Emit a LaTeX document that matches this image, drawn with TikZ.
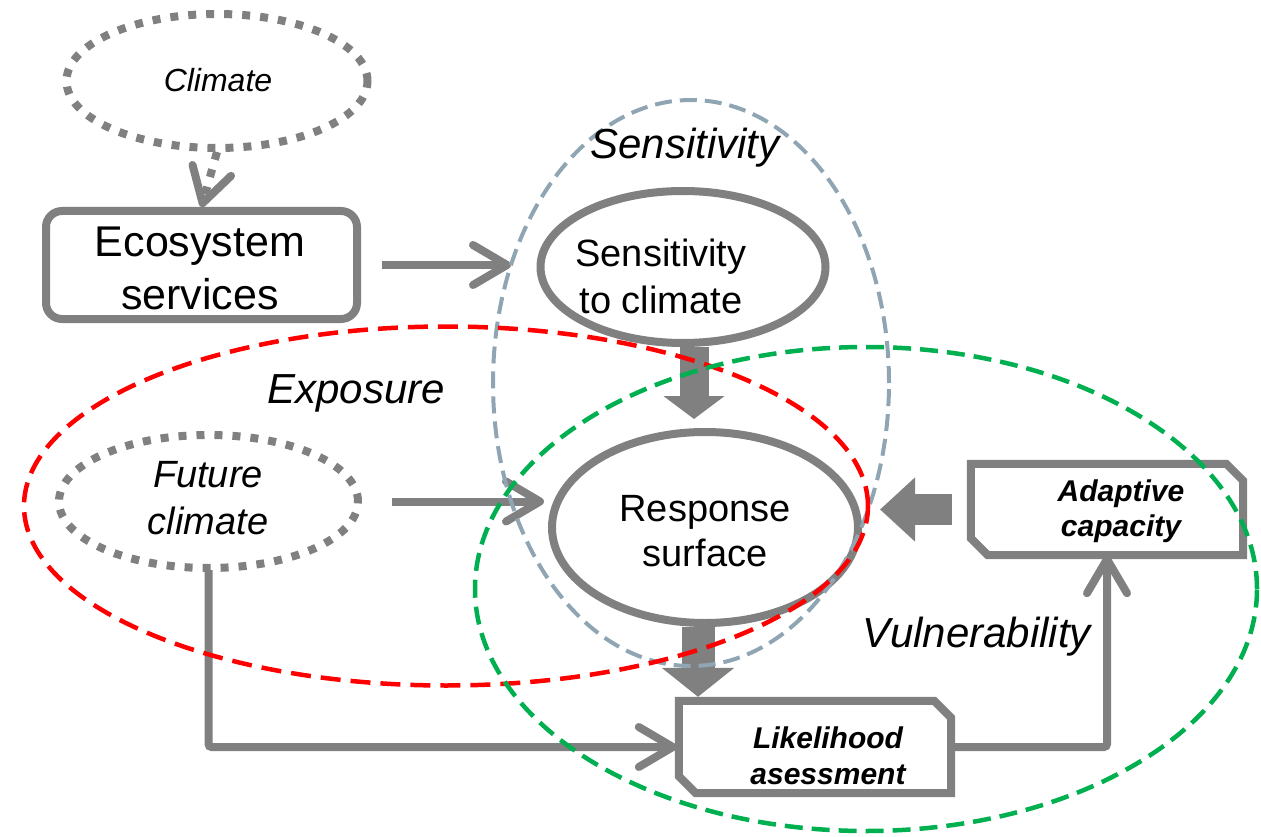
\documentclass[tikz,border=0pt]{standalone}
\usepackage{fontspec}
\setmainfont{Liberation Sans}
\usetikzlibrary{arrows.meta,shapes.geometric,calc}
\definecolor{gr}{HTML}{808080}
\definecolor{bg}{HTML}{8FA5B3}
\definecolor{rd}{HTML}{FF0000}
\definecolor{gn}{HTML}{00B050}
\begin{document}
\begin{tikzpicture}[x=1pt,y=-1pt,
  solidline/.style={draw=gr, line width=8pt},
  dotline/.style={draw=gr, line width=8pt, dash pattern=on 8pt off 10pt},
  openarr/.style={draw=gr, line width=8pt, -{Straight Barb[length=34pt, width=40pt, line cap=round, line join=round]}},
  blockarr/.style={draw=gr, line width=#1},
  boxnode/.style={rectangle, inner sep=0pt},
  chamfline/.style={draw=gr, line width=8pt, line join=miter},
  txt/.style={inner sep=0pt, align=center, text=black},
  region/.style={ellipse, inner sep=0pt, line width=4.5pt}
]
\useasboundingbox (0,0) rectangle (1261,837);

% nodes
\node[ellipse, dotline, minimum width=301pt, minimum height=134pt, inner sep=0pt] (clim) at (217,81) {};
\node[txt, font=\fontsize{32}{38}\selectfont\itshape] (climT) at (218,80) {Climate};

\node[rectangle, rounded corners=16pt, solidline, minimum width=311pt, minimum height=108pt, inner sep=0pt] (eco) at (201.5,265) {};
\node[txt, font=\fontsize{43}{53}\selectfont] (ecoT) at (200,268) {Ecosystem\\services};

\node[ellipse, solidline, minimum width=285pt, minimum height=152pt, inner sep=0pt] (sens) at (683,267) {};
\node[txt, font=\fontsize{38}{47}\selectfont] (sensT) at (661,276) {Sensitivity\\to climate};

\node[ellipse, solidline, minimum width=306pt, minimum height=191pt, inner sep=0pt] (resp) at (705,527.5) {};
\node[txt, font=\fontsize{38}{45}\selectfont] (respT) at (705,531) {Response\\surface};

\node[ellipse, dotline, minimum width=299pt, minimum height=133pt, inner sep=0pt] (fut) at (208.5,501.5) {};
\node[txt, font=\fontsize{38}{47}\selectfont\itshape] (futT) at (208,498) {Future\\climate};

\node[boxnode, minimum width=272pt, minimum height=91pt] (ada) at (1107,509.5) {};
\draw[chamfline] (ada.north west) -- ([xshift=-17pt]ada.north east) -- ([yshift=-17pt]ada.north east) -- (ada.south east) -- ([xshift=17pt]ada.south west) -- ([yshift=17pt]ada.south west) -- cycle;
\node[txt, font=\fontsize{30}{35}\selectfont\bfseries\itshape] (adaT) at (1121,511) {Adaptive\\capacity};

\node[boxnode, minimum width=272pt, minimum height=92pt] (lik) at (815,747) {};
\draw[chamfline] (lik.north west) -- ([xshift=-17pt]lik.north east) -- ([yshift=-17pt]lik.north east) -- (lik.south east) -- ([xshift=17pt]lik.south west) -- ([yshift=17pt]lik.south west) -- cycle;
\node[txt, font=\fontsize{30}{36}\selectfont\bfseries\itshape] (likT) at (828,756) {Likelihood\\asessment};

\path (691,383) coordinate (sensregC);

% connectors
\draw[openarr, dash pattern=on 8pt off 10pt] (clim.south) -- (eco.north);
\draw[openarr, shorten <=21pt] (eco.east) -- (eco.east -| 511,0);
\draw[openarr, shorten <=30pt, shorten >=4pt] (fut.east) -- (fut.east -| resp.west);
\draw[openarr, rounded corners=3pt, shorten <=-2pt, shorten >=2pt] (fut.south) -- (fut.south |- lik.west) -- (lik.west);
\draw[openarr, rounded corners=3pt] (lik.east) -- (lik.east -| ada.south) -- (ada.south);

\draw[blockarr=29pt, -{Triangle[length=23pt, width=60pt]}, shorten >=9pt] ([xshift=11pt]sens.south) -- ([xshift=-11pt]resp.north);
\draw[blockarr=33pt, -{Triangle[length=29pt, width=71pt]}, shorten >=4pt] ([xshift=-7pt]resp.south) -- ([xshift=-7pt]resp.south |- lik.north);
\draw[blockarr=31pt, -{Triangle[length=35pt, width=62pt]}, shorten <=19pt, shorten >=18pt] (ada.west) -- (ada.west -| resp.east);

% region ellipses on top
\node[region, draw=bg, dash pattern=on 17pt off 8pt, line width=4pt, minimum width=396pt, minimum height=566pt] (sensreg) at (sensregC) {};
\node[region, draw=rd, dash pattern=on 20pt off 10pt, minimum width=844pt, minimum height=359pt] (expreg) at (446,506) {};
\node[region, draw=gn, dash pattern=on 18pt off 9pt, minimum width=782pt, minimum height=484pt] (vulreg) at (866,589) {};

\node[txt, font=\fontsize{42}{50}\selectfont\itshape] (sensL) at (685,148) {Sensitivity};
\node[txt, font=\fontsize{42}{50}\selectfont\itshape] (expL) at (356,393) {Exposure};
\node[txt, font=\fontsize{42}{50}\selectfont\itshape] (vulL) at (977,637) {Vulnerability};
\end{tikzpicture}
\end{document}
